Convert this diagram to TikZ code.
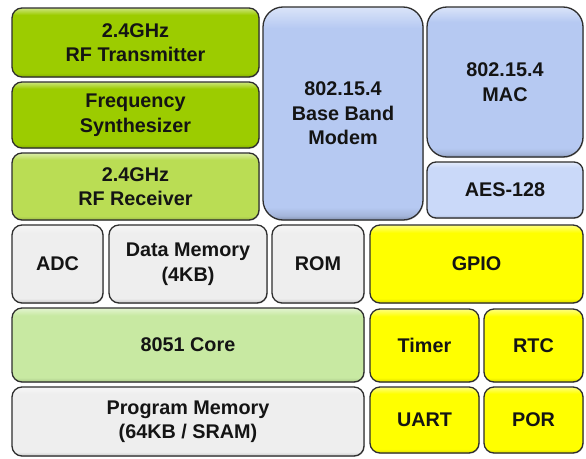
\documentclass[tikz,border=0pt]{standalone}
\usepackage{fontspec}
\setmainfont{Liberation Sans}
\usetikzlibrary{shadows}
\definecolor{cGreenD}{RGB}{156,204,0}
\definecolor{cGreenL}{RGB}{186,221,84}
\definecolor{cGreenP}{RGB}{200,233,162}
\definecolor{cBlue}{RGB}{182,201,242}
\definecolor{cBlueL}{RGB}{202,217,249}
\definecolor{cGray}{RGB}{238,238,238}
\definecolor{cYellow}{RGB}{255,255,0}
\colorlet{boxc}{cGray}
\pgfdeclareverticalshading[boxc]{bevel}{100bp}{%
  color(0bp)=(boxc!72!black); color(25bp)=(boxc!72!black);
  color(26bp)=(boxc!90!black); color(28bp)=(boxc);
  color(70bp)=(boxc); color(74bp)=(boxc!60!white);
  color(75bp)=(boxc!50!white); color(100bp)=(boxc!50!white)}
\tikzset{
  blk/.style={rectangle, draw=black!82, line width=1.3pt,
    /utils/exec={\colorlet{boxc}{#1}}, shading=bevel,
    drop shadow={shadow xshift=0.8pt, shadow yshift=-0.8pt, opacity=0.35},
    inner sep=0pt, outer sep=0pt, align=center,
    font=\bfseries\fontsize{19.8}{24.5}\selectfont, text=black!92}
}
\newcommand\blk[8]{%
  \node[blk=#6, rounded corners=#7, minimum width={(#4-#2)*1pt},
        minimum height={(#5-#3)*1pt}] (#1) at ({(#2+#4)/2},{(#3+#5)/2}) {#8};}
\begin{document}
\begin{tikzpicture}[x=1pt,y=-1pt]
\useasboundingbox[fill=white] (0,0) rectangle (586,458);
\blk{tx}{12}{8}{259}{77}{cGreenD}{10pt}{2.4GHz\\RF Transmitter}
\blk{syn}{12}{82}{259}{148}{cGreenD}{10pt}{Frequency\\Synthesizer}
\blk{rx}{12}{153}{259}{220}{cGreenL}{10pt}{2.4GHz\\RF Receiver}
\blk{bbm}{263}{7}{423}{220}{cBlue}{20pt}{802.15.4\\Base Band\\Modem}
\blk{mac}{427}{7}{583}{157}{cBlue}{20pt}{802.15.4\\MAC}
\blk{aes}{427}{162}{583}{218}{cBlueL}{9pt}{AES-128}
\blk{adc}{12}{225}{103}{303}{cGray}{10pt}{ADC}
\blk{dmem}{109}{225}{267}{303}{cGray}{10pt}{Data Memory\\(4KB)}
\blk{rom}{272}{225}{364}{303}{cGray}{10pt}{ROM}
\blk{core}{12}{308}{364}{382}{cGreenP}{10pt}{8051 Core}
\blk{pmem}{12}{387}{364}{456}{cGray}{10pt}{Program Memory\\(64KB / SRAM)}
\blk{gpio}{370}{225}{583}{303}{cYellow}{10pt}{GPIO}
\blk{timer}{370}{309}{479}{382}{cYellow}{10pt}{Timer}
\blk{rtc}{484}{309}{583}{382}{cYellow}{10pt}{RTC}
\blk{uart}{370}{387}{479}{453}{cYellow}{10pt}{UART}
\blk{por}{484}{387}{583}{453}{cYellow}{10pt}{POR}
\end{tikzpicture}
\end{document}
